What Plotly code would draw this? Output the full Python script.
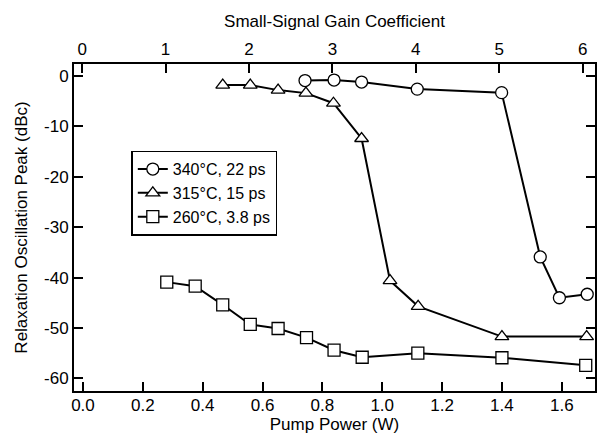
import plotly.graph_objects as go

# Data (Pump Power in W, Relaxation Oscillation Peak in dBc)
p340 = [0.742, 0.839, 0.931, 1.117, 1.399, 1.528, 1.592, 1.685]
r340 = [-0.9, -0.8, -1.2, -2.6, -3.3, -35.9, -44.0, -43.3]

p315 = [0.467, 0.559, 0.652, 0.745, 0.837, 0.931, 1.026, 1.120, 1.400, 1.683]
r315 = [-1.8, -1.8, -2.8, -3.4, -5.4, -12.4, -40.6, -45.7, -51.7, -51.7]

p260 = [0.280, 0.375, 0.467, 0.559, 0.652, 0.747, 0.839, 0.933, 1.119, 1.400, 1.680]
r260 = [-40.9, -41.7, -45.4, -49.3, -50.1, -51.9, -54.4, -55.8, -55.0, -55.9, -57.4]

names = ["340°C, 22 ps", "315°C, 15 ps", "260°C, 3.8 ps"]
symbols = ["circle", "triangle-up", "square"]

x_ticks = [0.0, 0.2, 0.4, 0.6, 0.8, 1.0, 1.2, 1.4, 1.6]
y_ticks = [0, -10, -20, -30, -40, -50, -60]
y_ticktext = ["0", "-10", "-20", "-30", "-40", "-50", "-60"]
gain_ticks = [0, 1, 2, 3, 4, 5, 6]

FONT = "Liberation Sans, Arial, Helvetica, sans-serif"
FS = 17

fig = go.Figure()
for xs, ys, nm, sym in zip([p340, p315, p260], [r340, r315, r260], names, symbols):
    fig.add_trace(go.Scatter(
        x=xs, y=ys, name=nm, mode="lines+markers",
        line=dict(color="black", width=2),
        marker=dict(symbol=sym, size=12, color="white",
                    line=dict(color="black", width=1.3)),
    ))

# empty trace so that the top (gain coefficient) axis is drawn
fig.add_trace(go.Scatter(x=gain_ticks, y=[None] * len(gain_ticks), xaxis="x2",
                         mode="markers", showlegend=False, hoverinfo="skip"))

axis_common = dict(showline=True, linecolor="black", linewidth=2, ticks="inside",
                   ticklen=9, tickwidth=1.5, tickcolor="black", showgrid=False,
                   zeroline=False, tickfont=dict(size=FS, color="black", family=FONT))

fig.update_layout(
    width=604, height=436,
    margin=dict(l=74, r=7, t=64, b=45),
    paper_bgcolor="white", plot_bgcolor="white",
    font=dict(family=FONT, size=FS, color="black"),
    showlegend=True,
    legend=dict(x=0.11, y=0.735, xanchor="left", yanchor="top",
                bordercolor="black", borderwidth=1.5, bgcolor="white",
                font=dict(size=16, color="black", family=FONT),
                tracegroupgap=0, itemwidth=30),
    xaxis=dict(range=[-0.03, 1.711], tickvals=x_ticks, tickformat=".1f",
               title=dict(text="Pump Power (W)", standoff=0,
                          font=dict(size=FS, family=FONT)),
               mirror=False, ticklabelstandoff=-2, **axis_common),
    xaxis2=dict(range=[-0.098, 6.148], tickvals=gain_ticks, overlaying="x", side="top",
                anchor="y", title=dict(text="Small-Signal Gain Coefficient", standoff=8,
                                       font=dict(size=FS, family=FONT)),
                **axis_common),
    yaxis=dict(range=[-62.5, 2.38], tickvals=y_ticks, ticktext=y_ticktext,
               title=dict(text="Relaxation Oscillation Peak (dBc)", standoff=12,
                          font=dict(size=FS, family=FONT)),
               mirror="ticks", **axis_common),
)

fig.write_html("out.html")
